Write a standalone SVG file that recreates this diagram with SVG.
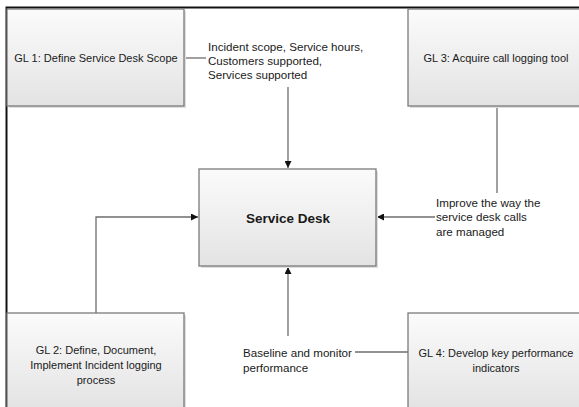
<svg xmlns="http://www.w3.org/2000/svg" width="579" height="407" viewBox="0 0 579 407">
  <style>
    .box { fill: url(#boxFill); stroke: #7a7a7a; stroke-width: 1.3; }
    .shadow { fill: #dedede; }
    .txt { font-family: "Liberation Sans", Arial, sans-serif; font-size: 11.6px; fill: #1a1a1a; }
    .node { font-family: "Liberation Sans", Arial, sans-serif; font-size: 11px; fill: #1a1a1a; text-anchor: middle; }
    .title { font-family: "Liberation Sans", Arial, sans-serif; font-size: 13.5px; font-weight: bold; fill: #1a1a1a; text-anchor: middle; }
    .wire { fill: none; stroke: #6e6e6e; stroke-width: 1.3; }
  </style>
  <defs>
    <linearGradient id="boxFill" x1="0" y1="0" x2="0" y2="1">
      <stop offset="0" stop-color="#fbfbfb"/>
      <stop offset="1" stop-color="#e3e3e3"/>
    </linearGradient>
    <marker id="arrow" viewBox="0 0 10 10" refX="10" refY="5" markerWidth="7" markerHeight="7" markerUnits="userSpaceOnUse" orient="auto">
      <path d="M0,0 L10,5 L0,10 z" fill="#111"/>
    </marker>
  </defs>

  <rect width="579" height="407" fill="#ffffff"/>
  <!-- outer frame -->
  <path d="M6.5,407 V7.5 H579" fill="none" stroke="#111" stroke-width="2"/>

  <!-- connectors -->
  <g id="connectors">
    <path class="wire" d="M184,58 H206"/>
    <path class="wire" d="M288,87 V168" marker-end="url(#arrow)"/>
    <path class="wire" d="M497,106 V193"/>
    <path class="wire" d="M435,217 H377" marker-end="url(#arrow)"/>
    <path class="wire" d="M96,313 V217 H198" marker-end="url(#arrow)"/>
    <path class="wire" d="M288,336 V267" marker-end="url(#arrow)"/>
    <path class="wire" d="M355,352 H408"/>
  </g>

  <!-- connector labels -->
  <g id="labels">
    <text class="txt" x="208" y="51">Incident scope, Service hours,</text>
    <text class="txt" x="208" y="65">Customers supported,</text>
    <text class="txt" x="208" y="79">Services supported</text>
    <text class="txt" x="436" y="207">Improve the way the</text>
    <text class="txt" x="436" y="221">service desk calls</text>
    <text class="txt" x="436" y="236">are managed</text>
    <text class="txt" x="243" y="357">Baseline and monitor</text>
    <text class="txt" x="243" y="372">performance</text>
  </g>

  <g id="gl1">
    <rect class="shadow" x="9" y="11" width="177" height="97"/>
    <rect class="box" x="7" y="9" width="177" height="97"/>
    <text class="node" x="96" y="62">GL 1: Define Service Desk Scope</text>
  </g>

  <g id="gl3">
    <rect class="shadow" x="410" y="11" width="177" height="97"/>
    <rect class="box" x="408" y="9" width="177" height="97"/>
    <text class="node" x="496" y="62">GL 3: Acquire call logging tool</text>
  </g>

  <g id="service-desk">
    <rect class="shadow" x="201" y="171" width="177" height="97"/>
    <rect class="box" x="199" y="169" width="177" height="97"/>
    <text class="title" x="288" y="223">Service Desk</text>
  </g>

  <g id="gl2">
    <rect class="shadow" x="9" y="315" width="177" height="97"/>
    <rect class="box" x="7" y="313" width="177" height="97"/>
    <text class="node" x="96" y="354">GL 2: Define, Document,</text>
    <text class="node" x="96" y="369">Implement Incident logging</text>
    <text class="node" x="96" y="384">process</text>
  </g>

  <g id="gl4">
    <rect class="shadow" x="410" y="315" width="177" height="97"/>
    <rect class="box" x="408" y="313" width="177" height="97"/>
    <text class="node" x="496" y="357">GL 4: Develop key performance</text>
    <text class="node" x="496" y="372">indicators</text>
  </g>
</svg>
